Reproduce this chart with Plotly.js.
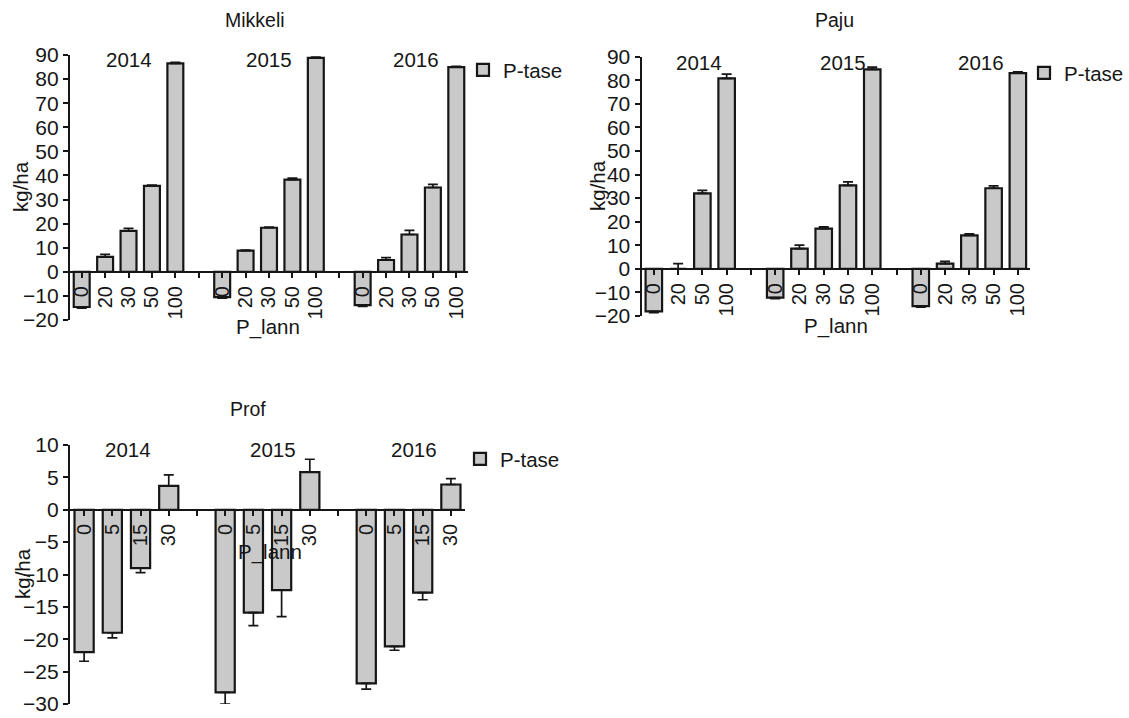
<!DOCTYPE html>
<html>
<head>
<meta charset="utf-8">
<script src="https://cdn.plot.ly/plotly-3.0.1.min.js"></script>
<style>
  html, body { margin: 0; padding: 0; background: #fff; }
  #chart { width: 1129px; height: 718px; }
</style>
</head>
<body>
<div id="chart"></div>
<script>
// ---- data: P balance (kg/ha) by P fertilisation rate, per site and year ----
const years = ['2014', '2015', '2016'];

const mikkeliDoses = [['0', '20', '30', '50', '100'], ['0', '20', '30', '50', '100'], ['0', '20', '30', '50', '100']];
const mikkeli2014 = [-14.6, 6.2, 17.0, 35.7, 86.5];
const mikkeli2015 = [-10.5, 8.8, 18.3, 38.3, 88.8];
const mikkeli2016 = [-13.8, 4.9, 15.5, 35.0, 85.0];
const mikkeliErr2014 = [0.5, 1.0, 1.0, 0.3, 0.4];
const mikkeliErr2015 = [0.4, 0.2, 0.3, 0.6, 0.3];
const mikkeliErr2016 = [0.6, 1.0, 1.7, 1.3, 0.3];

const pajuDoses = [['0', '20', '50', '100'], ['0', '20', '30', '50', '100'], ['0', '20', '30', '50', '100']];
const paju2014 = [-18.0, 0.0, 32.0, 80.8];
const paju2015 = [-12.2, 8.6, 17.1, 35.4, 84.6];
const paju2016 = [-15.8, 2.2, 14.2, 34.2, 83.0];
const pajuErr2014 = [0.6, 2.2, 1.3, 1.8];
const pajuErr2015 = [0.4, 1.5, 0.7, 1.5, 1.0];
const pajuErr2016 = [0.4, 1.0, 0.6, 1.0, 0.6];

const profDoses = [['0', '5', '15', '30'], ['0', '5', '15', '30'], ['0', '5', '15', '30']];
const prof2014 = [-22.0, -19.0, -9.0, 3.7];
const prof2015 = [-28.2, -15.9, -12.4, 5.8];
const prof2016 = [-26.8, -21.1, -12.8, 3.9];
const profErr2014 = [1.4, 0.8, 0.7, 1.7];
const profErr2015 = [1.8, 2.0, 4.1, 2.0];
const profErr2016 = [0.9, 0.6, 1.1, 0.9];

const seriesName = 'P-tase';
const xTitle = 'P_lann';
const yTitle = 'kg/ha';

// ---- layout helpers ----
const W = 1129, H = 718;
const px = v => v / W;          // pixel -> paper x
const py = v => 1 - v / H;      // pixel -> paper y

const FONT = '"Liberation Sans", Arial, sans-serif';
const INK = '#161616';
const FILL = '#c9c9c9';

// Lay the year groups out on one numeric axis, with an empty slot between groups.
function buildPanel(doses, values, errors) {
  const x = [], y = [], plus = [], minus = [], tickvals = [], ticktext = [], centers = [];
  let slot = 0;
  doses.forEach((group, g) => {
    const first = slot;
    group.forEach((d, i) => {
      const v = values[g][i], e = errors[g][i];
      x.push(slot); y.push(v);
      plus.push(v >= 0 ? e : 0);
      minus.push(v < 0 ? e : 0);
      tickvals.push(slot); ticktext.push(d);
      slot++;
    });
    centers.push((first + slot - 1) / 2);
    if (g < doses.length - 1) { tickvals.push(slot); ticktext.push(''); slot++; }
  });
  return { x, y, plus, minus, tickvals, ticktext, centers, n: slot };
}

const panels = [
  {
    key: '', legend: 'legend',
    data: buildPanel(mikkeliDoses, [mikkeli2014, mikkeli2015, mikkeli2016], [mikkeliErr2014, mikkeliErr2015, mikkeliErr2016]),
    xDom: [px(70), px(468)], yDom: [py(320), py(55)], yRange: [-20, 90], dtick: 10,
    title: 'Mikkeli', titlePos: [255, 20],
    xTitlePos: [268, 327], yTitlePos: [20, 187],
    yearX: [2, 8, 14.3], yearY: 88,
    legendPos: [463, 70]
  },
  {
    key: '2', legend: 'legend2',
    data: buildPanel(pajuDoses, [paju2014, paju2015, paju2016], [pajuErr2014, pajuErr2015, pajuErr2016]),
    xDom: [px(641.7), px(1030)], yDom: [py(316), py(56.7)], yRange: [-20, 90], dtick: 10,
    title: 'Paju', titlePos: [835, 20],
    xTitlePos: [836, 326], yTitlePos: [598, 186],
    yearX: [1.85, 7.8, 13.5], yearY: 87.5,
    legendPos: [1024, 73]
  },
  {
    key: '3', legend: 'legend3',
    data: buildPanel(profDoses, [prof2014, prof2015, prof2016], [profErr2014, profErr2015, profErr2016]),
    xDom: [px(70), px(465)], yDom: [py(704), py(445)], yRange: [-30, 10], dtick: 5,
    title: 'Prof', titlePos: [248, 409],
    xTitlePos: [270, 552], yTitlePos: [22, 574],
    yearX: [1.57, 6.7, 11.7], yearY: 9.3,
    legendPos: [460, 459]
  }
];

const traces = [];
const layout = {
  width: W, height: H,
  margin: { l: 0, r: 0, t: 0, b: 0, pad: 0 },
  paper_bgcolor: '#fff', plot_bgcolor: 'rgba(0,0,0,0)',
  font: { family: FONT, color: INK, size: 20 },
  bargap: 0,
  annotations: []
};

panels.forEach(p => {
  const xa = 'xaxis' + p.key, ya = 'yaxis' + p.key;
  const xr = 'x' + p.key, yr = 'y' + p.key;
  const d = p.data;

  traces.push({
    type: 'bar', name: seriesName, legend: p.legend, showlegend: true,
    x: d.x, y: d.y, width: 0.68,
    xaxis: xr, yaxis: yr,
    marker: { color: FILL, line: { color: INK, width: 2.2 } },
    error_y: { type: 'data', symmetric: false, array: d.plus, arrayminus: d.minus,
               color: INK, thickness: 1.7, width: 5 },
    hoverinfo: 'skip'
  });

  // category axis drawn along y = 0
  const zeroPos = p.yDom[0] + (0 - p.yRange[0]) / (p.yRange[1] - p.yRange[0]) * (p.yDom[1] - p.yDom[0]);
  layout[xa] = {
    domain: p.xDom, range: [-0.5, d.n - 0.5],
    anchor: 'free', position: zeroPos,
    showline: true, linecolor: INK, linewidth: 2.2,
    ticks: 'outside', ticklen: 5, tickwidth: 2, tickcolor: INK,
    tickmode: 'array', tickvals: d.tickvals, ticktext: d.ticktext,
    tickangle: -90, tickfont: { family: FONT, size: 20, color: INK },
    ticklabeloverflow: 'allow',
    showgrid: false, zeroline: false, fixedrange: true
  };
  layout[ya] = {
    domain: p.yDom, range: p.yRange, anchor: xr,
    tickmode: 'linear', tick0: 0, dtick: p.dtick,
    showline: true, linecolor: INK, linewidth: 2.2,
    ticks: 'outside', ticklen: 5, tickwidth: 2, tickcolor: INK,
    tickfont: { family: FONT, size: 21, color: INK },
    ticklabeloverflow: 'allow',
    showgrid: false, zeroline: false, fixedrange: true
  };

  layout[p.legend] = {
    x: px(p.legendPos[0]), y: py(p.legendPos[1]), xanchor: 'left', yanchor: 'middle',
    bgcolor: 'rgba(0,0,0,0)', borderwidth: 0,
    font: { family: FONT, size: 20.5, color: INK }
  };

  const ann = layout.annotations;
  ann.push({ text: p.title, xref: 'paper', yref: 'paper', x: px(p.titlePos[0]), y: py(p.titlePos[1]),
             showarrow: false, font: { size: 19.5 }, xanchor: 'center', yanchor: 'middle' });
  ann.push({ text: xTitle, xref: 'paper', yref: 'paper', x: px(p.xTitlePos[0]), y: py(p.xTitlePos[1]),
             showarrow: false, font: { size: 20.5 }, xanchor: 'center', yanchor: 'middle' });
  ann.push({ text: yTitle, xref: 'paper', yref: 'paper', x: px(p.yTitlePos[0]), y: py(p.yTitlePos[1]),
             showarrow: false, textangle: -90, font: { size: 20.5 }, xanchor: 'center', yanchor: 'middle' });
  years.forEach((yr_, i) => {
    ann.push({ text: yr_, xref: xr, yref: yr, x: p.yearX[i], y: p.yearY,
               showarrow: false, font: { size: 20.5 }, xanchor: 'center', yanchor: 'middle' });
  });
});

Plotly.newPlot('chart', traces, layout, { displayModeBar: false, staticPlot: true });
</script>
</body>
</html>
